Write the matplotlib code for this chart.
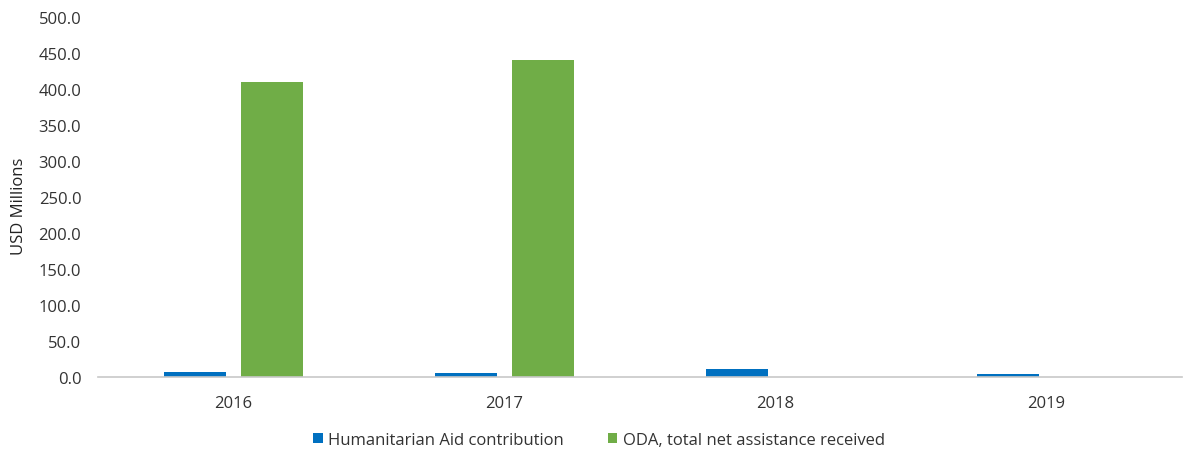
import numpy as np
import matplotlib.pyplot as plt

plt.rcParams['font.family'] = ['Open Sans', 'DejaVu Sans']

years = ['2016', '2017', '2018', '2019']
humanitarian = [6.8, 5.8, 10.5, 4.5]
oda = [410.0, 440.0, 0.0, 0.0]

x = np.arange(len(years))
w = 0.228
off = 0.1415

fig = plt.figure(figsize=(11.86, 4.52), dpi=100)
ax = fig.add_axes([98 / 1186, 1 - 378 / 452, (1182 - 98) / 1186, 360 / 452])

ax.bar(x - off, humanitarian, w, color='#0070C0', label='Humanitarian Aid contribution')
ax.bar(x + off, oda, w, color='#70AD47', label='ODA, total net assistance received')

ax.set_xlim(-0.5, 3.5)
ax.set_ylim(0, 500)
ax.set_yticks(np.arange(0, 501, 50))
ax.set_yticklabels([f'{v:.1f}' for v in np.arange(0, 501, 50)])
ax.set_xticks(x)
ax.set_xticklabels(years)
ax.tick_params(axis='both', length=0, labelsize=12, colors='#333333')
ax.tick_params(axis='y', pad=12)
ax.tick_params(axis='x', pad=13)
for s in ['top', 'right', 'left']:
    ax.spines[s].set_visible(False)
ax.spines['bottom'].set_color('#c8c8c8')
ax.spines['bottom'].set_linewidth(1.2)

ax.set_ylabel('USD Millions', fontsize=12, color='#222222')
ax.yaxis.set_label_coords(-0.0655, 0.478)

fig.legend(loc='center', bbox_to_anchor=(599 / 1186, 1 - 441 / 452), ncol=2, frameon=False,
           fontsize=12, handlelength=0.55, handleheight=0.55, columnspacing=2.6, handletextpad=0.35,
           labelcolor='#333333')

fig.savefig('out.png', dpi=100)
